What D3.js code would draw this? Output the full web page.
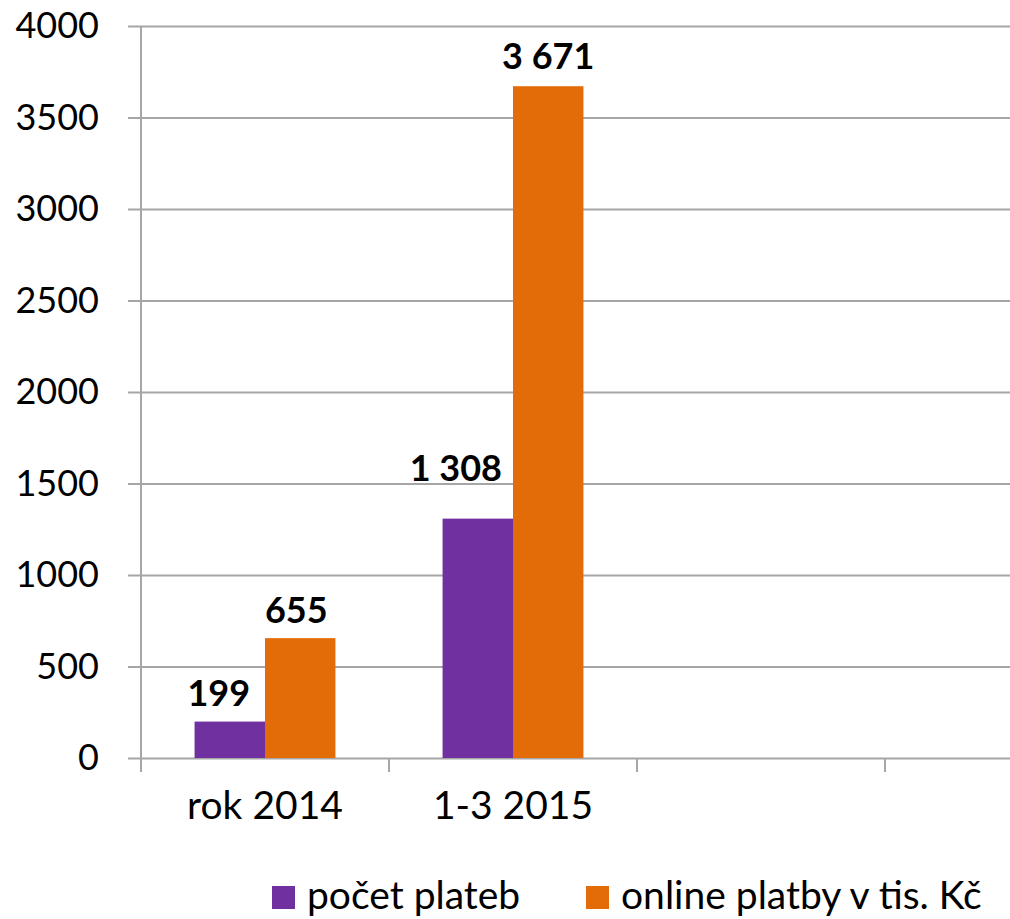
<!DOCTYPE html>
<html>
<head>
<meta charset="utf-8">
<script src="https://cdn.jsdelivr.net/npm/d3@7"></script>
<style>
  body { margin: 0; background: #fff; }
  svg { display: block; font-family: Lato, "Open Sans", sans-serif; }
  .grid .domain { display: none; }
  .grid line { stroke: #a6a6a6; stroke-width: 2; }
  .grid text { font-family: Lato, sans-serif; font-size: 36px; fill: #000; }
  .cats .domain { display: none; }
  .cats text { font-family: Lato, sans-serif; font-size: 39px; fill: #000; }
</style>
</head>
<body>
<svg id="chart" width="1010" height="919"></svg>
<script>
(function () {
  'use strict';

  const categories = ['rok 2014', '1-3 2015', '', ''];
  const seriesNames = ['počet plateb', 'online platby v tis. Kč'];
  const pocetPlateb = [199, 1308, null, null];
  const onlinePlatby = [655, 3671, null, null];
  const valueLabels = [['199', '1 308'], ['655', '3 671']];
  const yTicks = [0, 500, 1000, 1500, 2000, 2500, 3000, 3500, 4000];
  const colors = ['#7030a0', '#e36c09'];
  // manual nudges for the data labels, like the original layout
  const labelShift = [[[-11, 16], [-22, 38]], [[-4, 15], [0, 17]]];

  const svg = d3.select('#chart');
  const LEFT = 141;
  const BAND = 248;
  const TOP = 26;
  const BOTTOM = 758;

  const x = d3.scaleBand()
    .domain(categories.map((d, i) => i))
    .range([LEFT, LEFT + BAND * categories.length])
    .padding(0);
  const y = d3.scaleLinear().domain([0, 4000]).range([BOTTOM, TOP]);

  // horizontal grid + y labels
  svg.append('g').attr('class', 'grid')
    .attr('transform', 'translate(128,0)')
    .call(d3.axisLeft(y).tickValues(yTicks).tickFormat(d3.format('d'))
      .tickSize(-(1010 - 128)).tickPadding(29));

  // vertical axis line
  svg.append('line')
    .attr('x1', LEFT).attr('x2', LEFT)
    .attr('y1', y(4000)).attr('y2', BOTTOM + 14)
    .attr('stroke', '#a6a6a6').attr('stroke-width', 2);

  // category boundary ticks
  const bounds = categories.map((d, i) => x(i)).concat([x(categories.length - 1) + x.bandwidth()]);
  svg.append('g').selectAll('line').data(bounds.slice(1))
    .enter().append('line')
    .attr('x1', d => d).attr('x2', d => d)
    .attr('y1', BOTTOM).attr('y2', BOTTOM + 14)
    .attr('stroke', '#a6a6a6').attr('stroke-width', 2);

  // category labels
  svg.append('g').attr('class', 'cats')
    .attr('transform', `translate(0,${BOTTOM})`)
    .call(d3.axisBottom(x).tickSize(0).tickPadding(33).tickFormat(i => categories[i]));

  const barW = x.bandwidth() * 0.284;
  const series = [pocetPlateb, onlinePlatby];

  series.forEach((vals, s) => {
    const rows = vals.map((v, i) => ({ v, i })).filter(r => r.v !== null);
    const g = svg.append('g');
    const cx = r => x(r.i) + x.bandwidth() / 2 - barW + s * barW;

    g.selectAll('rect').data(rows)
      .enter().append('rect')
      .attr('x', cx)
      .attr('y', r => y(r.v))
      .attr('width', barW)
      .attr('height', r => BOTTOM - y(r.v))
      .attr('fill', colors[s]);

    g.selectAll('text').data(rows)
      .enter().append('text')
      .attr('x', r => cx(r) + barW / 2 + labelShift[s][r.i][0])
      .attr('y', r => y(r.v) - labelShift[s][r.i][1])
      .attr('text-anchor', 'middle')
      .attr('font-size', 36)
      .attr('font-weight', 'bold')
      .attr('fill', '#000')
      .text(r => valueLabels[s][r.i]);
  });

  // legend
  const legendX = [272, 586];
  const leg = svg.append('g');
  seriesNames.forEach((name, s) => {
    leg.append('rect')
      .attr('x', legendX[s]).attr('y', 886)
      .attr('width', 23).attr('height', 23)
      .attr('fill', colors[s]);
    leg.append('text')
      .attr('x', legendX[s] + 35).attr('y', 909)
      .attr('font-size', 39)
      .attr('fill', '#000')
      .text(name);
  });
}());
</script>
</body>
</html>
